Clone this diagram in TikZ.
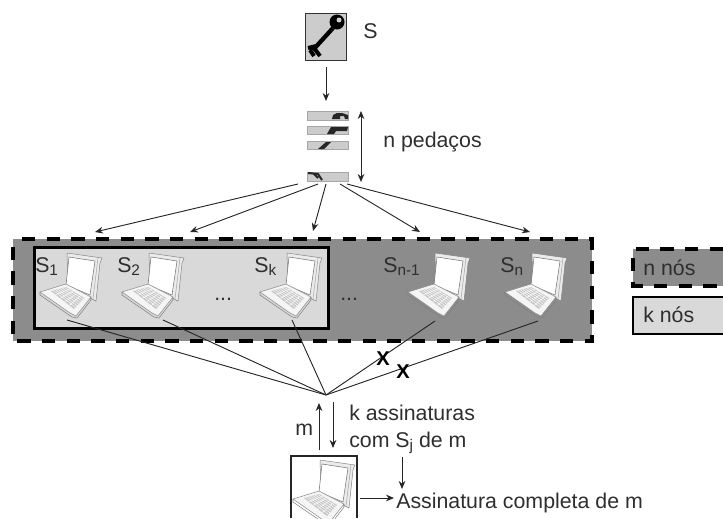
\documentclass[tikz,border=0pt]{standalone}
\usepackage{fontspec}
\setmainfont{Liberation Sans}
\usetikzlibrary{arrows.meta,calc}
\definecolor{outerg}{gray}{0.55}
\definecolor{innerg}{gray}{0.85}
\definecolor{txtg}{gray}{0.18}
\newcommand{\lowtxt}[1]{\raisebox{-0.35ex}{\fontsize{11.5pt}{13pt}\selectfont #1}}
\tikzset{
  x=0.75pt,y=-0.75pt,
  lab/.style={anchor=base west,inner sep=0,text=txtg,font=\fontsize{16pt}{18pt}\selectfont},
  xmark/.style={anchor=center,inner sep=0,text=black,font=\fontsize{15pt}{17pt}\selectfont\bfseries},
  conn/.style={draw=black!85,line width=0.7pt},
  arr/.style={conn,-{Stealth[length=6pt,width=5pt]}},
  darr/.style={conn,{Stealth[length=6pt,width=5pt]}-{Stealth[length=6pt,width=5pt]}},
  dashbox/.style={fill=outerg,draw=none},
  dashline/.style={draw=black,line width=2.6pt,dash pattern=on 10pt off 8.5pt},
  solidbox/.style={fill=innerg,draw=black,line width=2pt},
  strip/.style={fill=black!20,draw=black!35,line width=0.3pt},
  pix/.style={inner sep=0,minimum size=0pt},
  laptop/.pic={
    \fill[white!92!black,draw=black!50,line width=0.35pt] (27,0) -- (62,5) -- (60,10) -- (56,48) -- (50,45) -- (28,35) -- cycle;
    \draw[black!35,line width=0.4pt] (58,5) -- (53,46);
    \fill[white,draw=black!55,line width=0.4pt] (29,4) -- (55,8) -- (50,42) -- (26,32) -- cycle;
    \fill[white!96!black,draw=black!45,line width=0.4pt] (0,39) -- (26,31) -- (51,44) -- (36,63) -- (30,60) -- cycle;
    \fill[black!22] (11,38) -- (26,34) -- (44,45) -- (34,56) -- cycle;
    \foreach \t in {0.2,0.4,0.6,0.8}{\draw[white,line width=0.35pt] ($(11,38)!\t!(34,56)$) -- ($(26,34)!\t!(44,45)$);}
    \foreach \t in {0.15,0.3,0.45,0.6,0.75,0.9}{\draw[white,line width=0.35pt] ($(11,38)!\t!(26,34)$) -- ($(34,56)!\t!(44,45)$);}
    \draw[black!50,line width=0.4pt] (0,39) -- (0,42) -- (32,64) -- (37,65) -- (51,47) -- (51,44);
  }
}
\begin{document}
\begin{tikzpicture}
\useasboundingbox (0,0) rectangle (723,518);
\clip (0,0) rectangle (723,518);
% key box
\node[pix,draw=black!80,fill=black!20,line width=1pt,minimum width=30.5pt,minimum height=35pt,anchor=north west] (keybox) at (305,13) {};
\fill[black] (337,22) circle (7.5);
\fill[white!80!black] (339,20) circle (2.5);
\draw[black,line width=3.2pt] (333,28) -- (313,50);
\draw[black,line width=3pt] (316,46) -- (308,48) (314,48) -- (320,56) (310,50) -- (314,56);
\node[lab] (slab) at (363,38) {S};
% strips
\node[pix,strip,minimum width=30.5pt,minimum height=6.8pt,anchor=north west] (p1) at (307,111) {};
\node[pix,strip,minimum width=30.5pt,minimum height=6pt,anchor=north west] (p2) at (307,126) {};
\node[pix,strip,minimum width=30.5pt,minimum height=6pt,anchor=north west] (p3) at (307,141) {};
\node[pix,strip,minimum width=30.5pt,minimum height=6.8pt,anchor=north west] (p4) at (307,172) {};
\fill[black!85] (332,119) -- (333,115) -- (337,113) -- (342,113) -- (348,115) -- (348,119) -- (345,119) -- (344,116) -- (340,116) -- (340,119) -- cycle;
\fill[black!85] (327,134) -- (331,127) -- (348,127) -- (347,131) -- (336,131) -- (334,134) -- cycle;
\fill[black!85] (318,149) -- (326,142) -- (331,142) -- (324,149) -- cycle;
\draw[black!85,line width=1.5pt] (308,173) -- (318,174) -- (322,180) (314,174) -- (318,178);
\draw[darr] (361,111) -- (361,182);
\node[lab] (npedacos) at (383,147) {n pedaços};
\draw[arr] (keybox.south |- 0,67) -- (keybox.south |- 0,101);
% fan-out
\coordinate (t1) at (95,232);
\coordinate (t2) at (190,232);
\coordinate (t3) at (313,231);
\coordinate (t4) at (420,232);
\coordinate (t5) at (530,232);
\coordinate (f1) at (298,184);
\coordinate (f2) at (318,184);
\coordinate (f3) at (326,184);
\coordinate (f4) at (340,184);
\coordinate (f5) at (347,184);
\draw[arr] (f1) -- (t1);
\draw[arr] (f2) -- (t2);
\draw[arr] (f3) -- (t3);
\draw[arr] (f4) -- (t4);
\draw[arr] (f5) -- (t5);
% big box
\node[pix,dashbox,minimum width=434pt,minimum height=76.5pt,anchor=north west] (nbox) at (13,239) {};
\draw[dashline] (22,239) -- (592,239) -- (592,341) -- (13,341) -- (13,239);
\node[pix,solidbox,minimum width=220.5pt,minimum height=60.75pt,anchor=north west] (kbox) at (33,246) {};
% laptops
\pic at (40,253) {laptop};
\pic at (122,253) {laptop};
\pic at (260,253) {laptop};
\pic at (408,253) {laptop};
\pic at (505,253) {laptop};
\node[lab] (s1) at (35,272) {S\lowtxt{1}};
\node[lab] (s2) at (117,272) {S\lowtxt{2}};
\node[lab] (sk) at (254,272) {S\lowtxt{k}};
\node[lab] (sn1) at (383,272) {S\lowtxt{n-1}};
\node[lab] (sn) at (500,272) {S\lowtxt{n}};
\node[lab] (d1) at (214,300) {...};
\node[lab] (d2) at (340,300) {...};
% legend
\node[pix,dashbox,minimum width=68pt,minimum height=27.75pt,anchor=north west] (legn) at (633,249) {};
\draw[dashline] (723,249) -- (633,249) -- (633,286) -- (723,286);
\node[lab] (legnt) at (643,275) {n nós};
\fill[innerg] (633,297) rectangle (723,334);
\draw[black,line width=2pt] (723,297) -- (633,297) -- (633,334) -- (723,334);
\node[lab] (legkt) at (643,322) {k nós};
% converging lines
\coordinate (hub) at (326,395);
\coordinate (l1) at (67,320);
\coordinate (l2) at (163,320);
\coordinate (l3) at (292,320);
\coordinate (l4) at (435,321);
\coordinate (l5) at (538,321);
\draw[conn] (l1) -- (hub);
\draw[conn] (l2) -- (hub);
\draw[conn] (l3) -- (hub);
\draw[conn] (l4) -- (hub);
\draw[conn] (l5) -- (hub);
\node[xmark] (x1) at (383,359) {X};
\node[xmark] (x2) at (403,372) {X};
% client
\draw[black!85,line width=0.8pt] (291,518) -- (291,456) -- (357,456) -- (357,518);
\pic at (293,460) {laptop};
\draw[arr] (319,450) -- (319,403);
\draw[arr] (333,402) -- (333,448);
\node[lab] (m) at (295,435) {m};
\node[lab] (ka) at (349,420) {k assinaturas};
\node[lab] (com) at (349,447) {com S\lowtxt{j} de m};
\node[lab] (full) at (396,508) {Assinatura completa de m};
\draw[arr] (402,457) -- (402,489);
\draw[arr] (360,498) -- (394,498);
\end{tikzpicture}
\end{document}
